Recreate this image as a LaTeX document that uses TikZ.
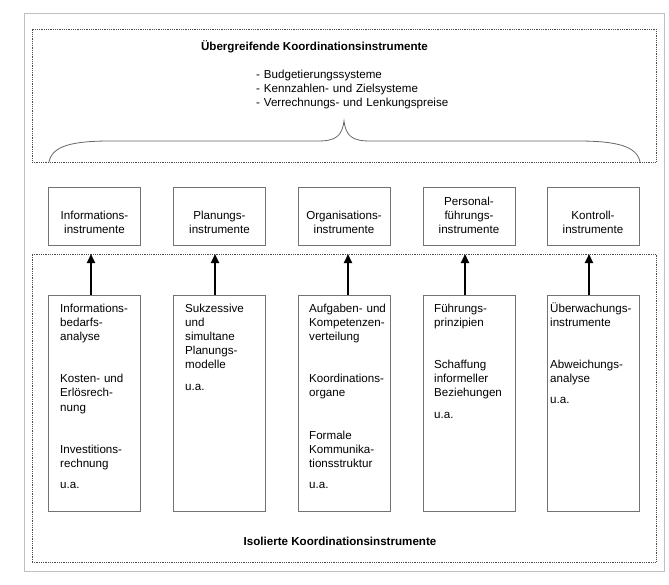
\documentclass[tikz,border=0pt]{standalone}
\usepackage{fontspec}
\setmainfont{Liberation Sans}
\usetikzlibrary{arrows.meta}
\tikzset{
  frame/.style={draw=black!25, line width=1pt, inner sep=0pt},
  dotbox/.style={draw=black!70, line width=0.9pt, dash pattern=on 0.9pt off 0.9pt, inner sep=0pt},
  topbox/.style={draw=black!55, line width=0.8pt, minimum width=92pt, minimum height=58pt, inner sep=0pt},
  lowbox/.style={draw=black!55, line width=0.8pt, minimum width=92pt, minimum height=216pt, inner sep=0pt},
  txt/.style={font=\fontsize{11.6}{14.2}\selectfont, inner sep=0pt},
  toptxt/.style={txt, align=center, anchor=south},
  lowtxt/.style={txt, align=left, text width=90pt, anchor=base west},
  titletxt/.style={font=\fontsize{11.6}{14.2}\selectfont\bfseries, inner sep=0pt, anchor=base},
  bracestyle/.style={draw=black!60, line width=0.8pt},
  arr/.style={-{Triangle[length=9pt,width=8pt]}, line width=2pt, black}
}
\begin{document}
\begin{tikzpicture}[x=1pt,y=-1pt]
\useasboundingbox (0,0) rectangle (669,584);
% frames
\node[frame, minimum width=640pt, minimum height=558pt] (outer) at (344,292) {};
\node[dotbox, minimum width=624pt, minimum height=133pt] (upper) at (344,95.5) {};
\node[dotbox, minimum width=624pt, minimum height=308pt] (lower) at (344,408) {};
% upper content
\node[titletxt] (utitle) at (314.5,50) {Übergreifende Koordinationsinstrumente};
\node[txt, align=left, text width=200pt, anchor=base west] (ulist) at (256,78)
  {- Budgetierungssysteme\\- Kennzahlen- und Zielsysteme\\- Verrechnungs- und Lenkungspreise};
\path[bracestyle] (49,162) .. controls (52,146) and (72,141) .. (110,141) -- (318,141)
  .. controls (336,141) and (342,136) .. (344,121)
  .. controls (346,136) and (352,141) .. (370,141) -- (578,141)
  .. controls (616,141) and (637,146) .. (640,162);
% top boxes
\node[topbox] (h1) at (94.5,216) {};
\node[topbox] (h2) at (219.5,216) {};
\node[topbox] (h3) at (344,216) {};
\node[topbox] (h4) at (469,216) {};
\node[topbox] (h5) at (593,216) {};
\node[toptxt] (h1t) at (94.5,234) {Informations-\\instrumente};
\node[toptxt] (h2t) at (219.5,234) {Planungs-\\instrumente};
\node[toptxt] (h3t) at (344,234) {Organisations-\\instrumente};
\node[toptxt] (h4t) at (469,234) {Personal-\\führungs-\\instrumente};
\node[toptxt] (h5t) at (593,234) {Kontroll-\\instrumente};
% lower boxes
\node[lowbox] (b1) at (94.5,403) {};
\node[lowbox] (b2) at (219.5,403) {};
\node[lowbox] (b3) at (344,403) {};
\node[lowbox] (b4) at (469,403) {};
\node[lowbox] (b5) at (593,403) {};
\node[lowtxt] (b1t) at (60,312) {Informations-\\bedarfs-\\analyse\\[28pt]Kosten- und\\Erlösrech-\\nung\\[28pt]Investitions-\\rechnung\\[7pt]u.a.};
\node[lowtxt] (b2t) at (185,312) {Sukzessive\\und\\simultane\\Planungs-\\modelle\\[7pt]u.a.};
\node[lowtxt] (b3t) at (309,312) {Aufgaben- und\\Kompetenzen-\\verteilung\\[28pt]Koordinations-\\organe\\[28pt]Formale\\Kommunika-\\tionsstruktur\\[7pt]u.a.};
\node[lowtxt] (b4t) at (434,312) {Führungs-\\prinzipien\\[28pt]Schaffung\\informeller\\Beziehungen\\[7pt]u.a.};
\node[lowtxt] (b5t) at (550,312) {Überwachungs-\\instrumente\\[28pt]Abweichungs-\\analyse\\[7pt]u.a.};
\node[titletxt] (ltitle) at (340,545) {Isolierte Koordinationsinstrumente};
% arrows
\coordinate (a1) at (91,254);
\coordinate (a2) at (215,254);
\coordinate (a3) at (348,254);
\coordinate (a4) at (465,254);
\coordinate (a5) at (589,254);
\draw[arr] (b1.north -| a1) -- (a1);
\draw[arr] (b2.north -| a2) -- (a2);
\draw[arr] (b3.north -| a3) -- (a3);
\draw[arr] (b4.north -| a4) -- (a4);
\draw[arr] (b5.north -| a5) -- (a5);
\end{tikzpicture}
\end{document}
